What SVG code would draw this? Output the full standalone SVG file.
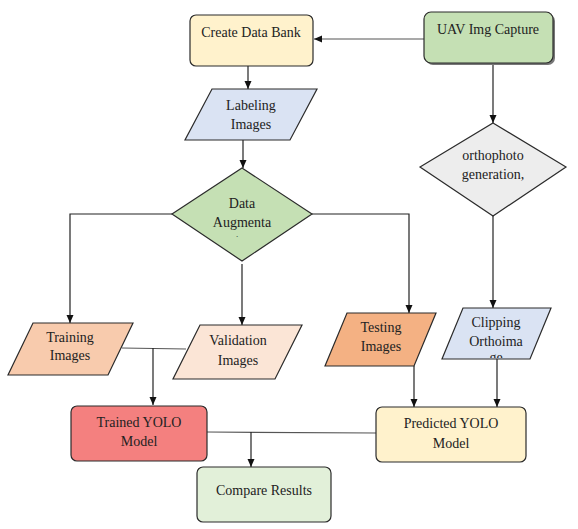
<svg xmlns="http://www.w3.org/2000/svg" width="578" height="529" viewBox="0 0 578 529">
<defs>
<marker id="ah" markerWidth="8" markerHeight="8" refX="8" refY="4" orient="auto" markerUnits="userSpaceOnUse">
<path d="M0,0.5 L8,4 L0,7.5 z" fill="#111"/>
</marker>
<clipPath id="clipC"><rect x="430" y="300" width="130" height="58"/></clipPath>
</defs>
<style>
.n{stroke:#2b2b2b;stroke-width:1.2}
.t{font-size:14px;fill:#222;text-anchor:middle}
.c{fill:none;stroke:#222;stroke-width:1.2}
.g{fill:none;stroke:#555;stroke-width:1.2}
</style>
<rect width="578" height="529" fill="#fff"/>
<g id="connectors">
<line class="g" x1="424" y1="39" x2="314" y2="39" marker-end="url(#ah)"/>
<line class="c" x1="248" y1="66" x2="248" y2="89" marker-end="url(#ah)"/>
<line class="c" x1="493" y1="61" x2="493" y2="123" marker-end="url(#ah)"/>
<line class="c" x1="243" y1="140" x2="243" y2="168" marker-end="url(#ah)"/>
<polyline class="c" points="172,214 70,214 70,323" marker-end="url(#ah)"/>
<line class="c" x1="242" y1="264" x2="242" y2="325" marker-end="url(#ah)"/>
<polyline class="c" points="312,214 409,214 409,313" marker-end="url(#ah)"/>
<line class="c" x1="493" y1="216" x2="493" y2="308" marker-end="url(#ah)"/>
<line class="g" x1="122" y1="348" x2="186" y2="349"/>
<line class="c" x1="153" y1="348" x2="153" y2="405" marker-end="url(#ah)"/>
<line class="c" x1="414" y1="366" x2="414" y2="407" marker-end="url(#ah)"/>
<line class="c" x1="497" y1="359" x2="497" y2="407" marker-end="url(#ah)"/>
<line class="g" x1="207" y1="432" x2="376" y2="433"/>
<line class="c" x1="251" y1="432" x2="251" y2="467" marker-end="url(#ah)"/>
</g>
<g font-family="'Liberation Serif', 'DejaVu Serif', serif">
<g id="create-data-bank">
<rect class="n" x="190" y="15" width="123" height="51" rx="6" fill="#FFF2CC"/>
<text class="t" x="251" y="37">Create Data Bank</text>
</g>
<g id="uav-img-capture">
<rect x="426" y="14" width="129" height="51" rx="7" fill="#777"/>
<rect class="n" x="424" y="12" width="129" height="51" rx="7" fill="#C5E0B4"/>
<text class="t" x="488" y="34">UAV Img Capture</text>
</g>
<g id="labeling-images">
<polygon class="n" points="212,89 317,89 290,140 185,140" fill="#DAE3F3"/>
<text class="t" x="251" y="110">Labeling</text>
<text class="t" x="251" y="129">Images</text>
</g>
<g id="data-augmentation">
<polygon class="n" points="242,168 312,214 242,261 172,214" fill="#C5E0B4"/>
<text class="t" x="242" y="208">Data</text>
<text class="t" x="242" y="227">Augmenta</text>
<text class="t" x="237" y="237" style="font-size:9px">.</text>
</g>
<g id="orthophoto-generation">
<polygon class="n" points="493,123 566,167 493,216 420,167" fill="#EDEDED"/>
<text class="t" x="493" y="160">orthophoto</text>
<text class="t" x="493" y="179">generation,</text>
</g>
<g id="training-images">
<polygon class="n" points="33,323 133,323 108,375 8,375" fill="#F8CBAD"/>
<text class="t" x="70" y="342">Training</text>
<text class="t" x="70" y="360">Images</text>
</g>
<g id="validation-images">
<polygon class="n" points="200,325 302,325 275,379 173,379" fill="#FBE5D6"/>
<text class="t" x="238" y="345">Validation</text>
<text class="t" x="238" y="365">Images</text>
</g>
<g id="testing-images">
<polygon class="n" points="347,313 436,313 414,366 325,366" fill="#F4B183"/>
<text class="t" x="381" y="332">Testing</text>
<text class="t" x="381" y="351">Images</text>
</g>
<g id="clipping-orthoimage">
<polygon class="n" points="463,308 551,308 530,359 442,359" fill="#DAE3F3"/>
<text class="t" x="496" y="327">Clipping</text>
<text class="t" x="496" y="346">Orthoima</text>
<text class="t" x="496" y="362" clip-path="url(#clipC)">ge</text>
</g>
<g id="trained-yolo-model">
<rect class="n" x="71" y="406" width="136" height="55" rx="6" fill="#F4807F"/>
<text class="t" x="139" y="427">Trained YOLO</text>
<text class="t" x="139" y="446">Model</text>
</g>
<g id="predicted-yolo-model">
<rect class="n" x="376" y="407" width="150" height="55" rx="6" fill="#FFF2CC"/>
<text class="t" x="451" y="428">Predicted YOLO</text>
<text class="t" x="451" y="448">Model</text>
</g>
<g id="compare-results">
<rect class="n" x="197" y="467" width="134" height="55" rx="6" fill="#E2F0D9"/>
<text class="t" x="264" y="495">Compare Results</text>
</g>
</g>
</svg>
